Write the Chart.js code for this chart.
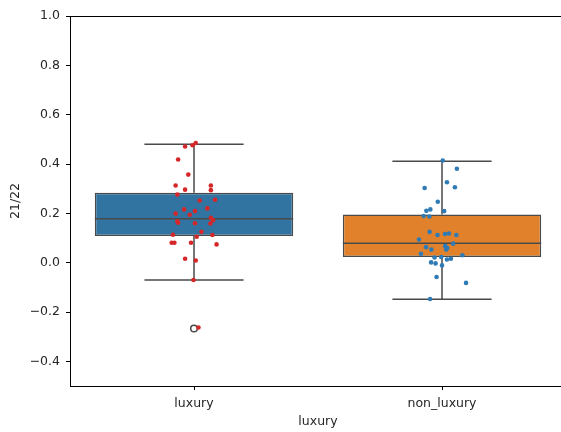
<!DOCTYPE html>
<html>
<head>
<meta charset="utf-8">
<script src="https://cdn.jsdelivr.net/npm/chart.js@4.4.1/dist/chart.umd.min.js"></script>
<style>
  html, body { margin: 0; padding: 0; background: #fff; overflow: hidden; }
  #wrap { width: 600px; height: 432px; position: relative; }
</style>
</head>
<body>
<div id="wrap"><canvas id="chart"></canvas></div>
<script>
// categories on the x axis
const categories = ['luxury', 'non_luxury'];
const xTicks = [0, 1];
const yTicks = [-0.4, -0.2, 0.0, 0.2, 0.4, 0.6, 0.8, 1.0];

// box statistics
const boxQ1 = [0.108, 0.023];
const boxMedian = [0.178, 0.079];
const boxQ3 = [0.283, 0.195];
const whiskerLow = [-0.070, -0.148];
const whiskerHigh = [0.480, 0.411];
const outliers = [[-0.267], []];

// strip points: jitter offset and value
const luxuryJitter = [-0.036, -0.006, 0.007, -0.064, -0.023, -0.074, -0.036, 0.068, 0.068, -0.067,
    0.023, 0.085, 0.054, -0.040, 0.004, -0.074, -0.017, 0.068, 0.077, -0.067,
    -0.064, 0.004, 0.066, 0.030, -0.085, 0.011, 0.074, -0.090, -0.079, -0.012,
    0.091, -0.036, 0.007, -0.002, 0.018];
const luxuryValues = [0.471, 0.476, 0.485, 0.418, 0.357, 0.313, 0.296, 0.313, 0.294, 0.276,
    0.252, 0.255, 0.220, 0.216, 0.209, 0.199, 0.194, 0.182, 0.172, 0.168,
    0.162, 0.160, 0.159, 0.125, 0.113, 0.105, 0.112, 0.081, 0.081, 0.081,
    0.074, 0.016, 0.009, -0.070, -0.263];
const nonLuxuryJitter = [0.003, 0.060, 0.020, -0.070, 0.052, -0.017, -0.063, -0.047, 0.009, -0.074,
    -0.051, -0.050, -0.018, 0.012, 0.028, 0.058, -0.093, 0.045, 0.013, -0.064,
    0.021, -0.043, 0.017, -0.085, 0.082, -0.030, -0.003, 0.020, 0.036, -0.044,
    -0.026, 0.000, -0.022, 0.097, -0.048];
const nonLuxuryValues = [0.414, 0.381, 0.326, 0.303, 0.306, 0.247, 0.210, 0.216, 0.209, 0.189,
    0.187, 0.125, 0.112, 0.116, 0.118, 0.112, 0.094, 0.077, 0.067, 0.063,
    0.059, 0.053, 0.053, 0.036, 0.030, 0.021, 0.023, 0.013, 0.016, 0.001,
    -0.003, -0.011, -0.058, -0.082, -0.147];

const boxColors = ['#3274a1', '#e1812c'];
const lineColor = '#4a4a4a';
const BOX_W = 0.8;
const CAP_W = 0.4;
const FONT = {family: 'DejaVu Sans', size: 12.5};

// build whisker / median segments, broken by null points
let segs = [];
categories.forEach((c, i) => {
    const h = BOX_W / 2, ch = CAP_W / 2;
    segs.push({x: i - h, y: boxMedian[i]}, {x: i + h, y: boxMedian[i]}, {x: i, y: null});
    segs.push({x: i, y: boxQ3[i]}, {x: i, y: whiskerHigh[i]}, {x: i, y: null});
    segs.push({x: i, y: boxQ1[i]}, {x: i, y: whiskerLow[i]}, {x: i, y: null});
    segs.push({x: i - ch, y: whiskerHigh[i]}, {x: i + ch, y: whiskerHigh[i]}, {x: i, y: null});
    segs.push({x: i - ch, y: whiskerLow[i]}, {x: i + ch, y: whiskerLow[i]}, {x: i, y: null});
});

let fliers = [];
outliers.forEach((arr, i) => arr.forEach(v => fliers.push({x: i, y: v})));

const strip = (jit, vals, pos) => vals.map((v, k) => ({x: pos + jit[k], y: v}));

const config = {
    type: 'bar',
    data: {
        datasets: [
            {
                type: 'bar',
                data: categories.map((c, i) => ({x: i, y: [boxQ1[i], boxQ3[i]]})),
                backgroundColor: boxColors,
                borderColor: lineColor,
                borderWidth: 1.5,
                borderSkipped: false,
                categoryPercentage: BOX_W,
                barPercentage: 1,
                order: 4
            },
            {
                type: 'line',
                data: segs,
                borderColor: lineColor,
                borderWidth: 1.5,
                pointRadius: 0,
                spanGaps: false,
                fill: false,
                order: 3
            },
            {
                type: 'scatter',
                data: fliers,
                pointRadius: 3.3,
                pointBorderWidth: 1.5,
                pointBackgroundColor: 'rgba(0,0,0,0)',
                pointBorderColor: lineColor,
                order: 2
            },
            {
                type: 'scatter',
                data: strip(luxuryJitter, luxuryValues, 0),
                pointRadius: 2.3,
                pointBorderWidth: 0,
                pointBackgroundColor: '#d62728',
                order: 1
            },
            {
                type: 'scatter',
                data: strip(nonLuxuryJitter, nonLuxuryValues, 1),
                pointRadius: 2.3,
                pointBorderWidth: 0,
                pointBackgroundColor: '#2f7bb6',
                order: 0
            }
        ]
    },
    options: {
        responsive: true,
        maintainAspectRatio: false,
        animation: false,
        layout: {padding: {top: 0, right: 34, bottom: 0, left: 0}},
        plugins: {legend: {display: false}, tooltip: {enabled: false}},
        scales: {
            x: {
                type: 'linear',
                position: 'bottom',
                min: -0.5,
                max: 1.5,
                offset: false,
                afterBuildTicks: (scale) => { scale.ticks = xTicks.map(v => ({value: v})); },
                afterFit: (scale) => { scale.height = 46; },
                grid: {offset: false, drawOnChartArea: false, drawTicks: true, tickLength: 4, tickColor: '#000'},
                border: {display: true, color: '#000', width: 1},
                ticks: {
                    padding: 6,
                    color: '#262626',
                    font: FONT,
                    callback: (v, idx) => categories[idx]
                },
                title: {display: true, text: 'luxury', color: '#262626', font: FONT, padding: {top: 0, bottom: 3}}
            },
            xTop: {
                type: 'linear',
                position: 'top',
                min: -0.5,
                max: 1.5,
                offset: false,
                afterFit: (scale) => { scale.height = 16; },
                grid: {offset: false, drawOnChartArea: false, drawTicks: false},
                border: {display: true, color: '#000', width: 1},
                ticks: {display: false}
            },
            y: {
                type: 'linear',
                min: -0.5,
                max: 1.0,
                afterBuildTicks: (scale) => { scale.ticks = yTicks.map(v => ({value: v})); },
                afterFit: (scale) => { scale.width = 70; },
                grid: {drawOnChartArea: false, drawTicks: true, tickLength: 4, tickColor: '#000'},
                border: {display: true, color: '#000', width: 1},
                ticks: {
                    padding: 6,
                    color: '#262626',
                    font: FONT,
                    callback: (v) => v.toFixed(1).replace('-', '\u2212')
                },
                title: {display: true, text: '21/22', color: '#262626', font: FONT, padding: {top: 8, bottom: 0}}
            }
        }
    }
};

window.onload = () => {
    let ctx = document.getElementById('chart').getContext('2d');
    window.myChart = new Chart(ctx, config);
};
</script>
</body>
</html>
